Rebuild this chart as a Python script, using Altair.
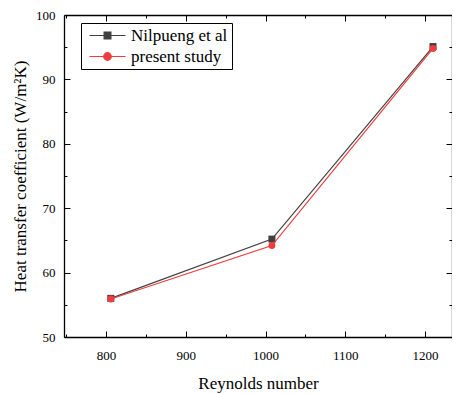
import altair as alt
import pandas as pd

# ---- data ----
reynolds = [806, 1008, 1210]
nilpueng = [56.0, 65.2, 95.1]
present = [55.9, 64.2, 94.8]
series = ["Nilpueng et al", "present study"]
colors = ["#404040", "#f03c3c"]
x_major = [800, 900, 1000, 1100, 1200]
x_minor = [750, 850, 950, 1050, 1150]
y_major = [50, 60, 70, 80, 90, 100]
y_minor = [55, 65, 75, 85, 95]

df = pd.DataFrame({
    "Re": reynolds + reynolds,
    "h": nilpueng + present,
    "series": [series[0]] * len(reynolds) + [series[1]] * len(reynolds),
})

FONT = "Liberation Serif"
xs = alt.Scale(domain=[747.3, 1233.8], nice=False, zero=False)
ys = alt.Scale(domain=[50, 100], nice=False, zero=False)


def axis(orient, values, size=0, labels=False, domain=False, title=None, ticks=True, pad=0, tpad=0):
    kw = dict(orient=orient, values=values, labels=labels, domain=domain, grid=False,
              title=title, ticks=ticks, tickColor="black", tickWidth=1,
              domainColor="black", domainWidth=1.3, format="d",
              labelFont=FONT, labelFontSize=13, labelColor="black", labelPadding=pad,
              titleFont=FONT, titleFontSize=17, titleFontWeight="normal",
              titleColor="black", titlePadding=tpad, labelFlush=False, labelOverlap=False)
    if ticks:
        kw["tickSize"] = alt.ExprRef(str(-size))
    else:
        kw["tickSize"] = 0
    return alt.Axis(**kw)


def enc(ch, xa, ya):
    return ch.encode(
        x=alt.X("Re:Q", scale=xs, axis=xa),
        y=alt.Y("h:Q", scale=ys, axis=ya),
    )


base = alt.Chart(df)
nil = base.transform_filter(alt.datum.series == series[0])
pre = base.transform_filter(alt.datum.series == series[1])

line_nil = enc(
    nil.mark_line(color=colors[0], strokeWidth=1.2),
    axis("bottom", x_major, labels=True, domain=True, title="Reynolds number", ticks=False, pad=12, tpad=13),
    axis("left", y_major, labels=True, domain=True, title="Heat transfer coefficient (W/m\u00b2K)", ticks=False, pad=9, tpad=6),
)
pts_nil = enc(
    nil.mark_point(shape="square", filled=True, color=colors[0], size=49, opacity=1),
    axis("bottom", x_major, size=6),
    axis("left", y_major, size=6),
)
line_pre = enc(
    pre.mark_line(color=colors[1], strokeWidth=1.2),
    axis("bottom", x_minor, size=3),
    axis("left", y_minor, size=3),
)
pts_pre = enc(
    pre.mark_point(shape="circle", filled=True, color=colors[1], size=48, opacity=1),
    axis("top", x_major, size=6, domain=True),
    axis("right", y_major, size=6, domain=True),
)

sq_path = "M-1,0H8M2.65,-0.85H4.35V0.85H2.65Z"
ci_path = "M-1,0H8M4.45,0A0.95,0.95 0 1,1 2.55,0A0.95,0.95 0 1,1 4.45,0Z"

leg = alt.Legend(
    title=None, orient="none", legendX=17, legendY=8, direction="vertical",
    labelFont=FONT, labelFontSize=17, labelColor="black", labelLimit=300,
    symbolSize=64, symbolStrokeWidth=1.2, symbolOpacity=1,
    strokeColor="black", fillColor="white", padding=4, rowPadding=3, labelOffset=29,
)

legend_layer = base.transform_filter("false").mark_point(filled=True).encode(
    x=alt.X("Re:Q", scale=xs, axis=axis("top", x_minor, size=3)),
    y=alt.Y("h:Q", scale=ys, axis=axis("right", y_minor, size=3)),
    fill=alt.Fill("series:N", scale=alt.Scale(domain=series, range=colors), legend=leg),
    stroke=alt.Stroke("series:N", scale=alt.Scale(domain=series, range=colors), legend=leg),
    shape=alt.Shape("series:N", scale=alt.Scale(domain=series, range=[sq_path, ci_path]), legend=leg),
)

chart = alt.layer(line_nil, pts_nil, line_pre, pts_pre, legend_layer).resolve_axis(
    x="independent", y="independent"
).properties(
    width=388, height=322,
    autosize=alt.AutoSizeParams(type="none"),
    padding={"left": 56, "top": 7, "right": 0, "bottom": 57},
    background="white",
).configure(font=FONT).configure_view(stroke=None)

chart.save("out.html", embed_options={"renderer": "svg", "actions": False})
